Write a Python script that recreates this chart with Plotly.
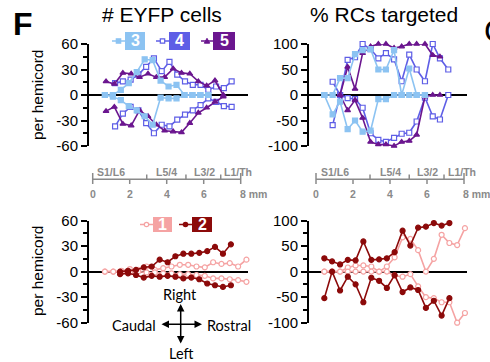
import plotly.graph_objects as go

W, H = 490, 362

# ---------------- data (mm along cord, value) ----------------
# Top-left: # EYFP cells per hemicord (positive = right, negative = left)
x3 = [0.66, 1.09, 1.52, 1.95, 2.38, 2.81, 3.24, 3.67, 4.10, 4.53, 4.96, 5.39, 5.82, 6.25]
r3 = [0, 0, 6, 14, 27, 42, 41, 17, 10, 12, 0, 0, 0, 0]
l3 = [0, -2, -6, -13, -18, -25, -35, -3, -4, -4, 0, 0, 0, 0]
x4 = [1.21, 1.63, 2.05, 2.47, 2.89, 3.31, 3.73, 4.15, 4.57, 4.99, 5.41, 5.83, 6.25, 6.67, 7.09, 7.51]
r4 = [14, 16, 18, 24, 33, 43, 28, 39, 24, 16, 12, 12, 6, 10, 8, 16]
l4 = [-37, -22, -14, -18, -33, -45, -35, -37, -29, -23, -18, -12, -4, -8, -13, -14]
x5 = [0.72, 1.17, 1.63, 2.08, 2.53, 2.99, 3.44, 3.89, 4.35, 4.80, 5.25, 5.71, 6.16, 6.61, 7.06]
r5 = [16, 13, 26, 25, 21, 25, 21, 21, 31, 26, 25, 16, 11, 17, 0]
l5 = [-19, -14, -34, -36, -18, -25, -35, -42, -43, -44, -33, -21, -15, -8, -2]

# Top-right: % RCs targeted
x3r = [0.45, 0.90, 1.30, 1.71, 2.11, 2.52, 2.95, 3.37, 3.78, 4.22, 4.63, 5.04, 5.44, 5.89]
r3r = [0, 0, 33, 33, 80, 88, 90, 50, 50, 88, 0, 52, 0, 0]
l3r = [0, -38, -13, -67, -50, -72, -70, -8, -8, 0, 0, 0, 0, 0]
x4r = [0.90, 1.30, 1.71, 2.11, 2.52, 2.95, 3.37, 3.78, 4.22, 4.63, 5.04, 5.44, 5.89, 6.31, 6.70, 7.15]
r4r = [26, 0, 69, 74, 100, 90, 72, 82, 70, 27, 79, 50, 27, 100, 72, 50]
l4r = [-59, 0, -6, -8, -25, -75, -88, -92, -84, -76, -74, -52, -5, -42, -48, 0]
x5r = [1.30, 1.71, 2.11, 2.52, 2.95, 3.37, 3.78, 4.22, 4.63, 5.04, 5.44, 5.89, 6.31, 6.70]
r5r = [0, 55, 12, 82, 95, 100, 100, 92, 95, 100, 100, 100, 78, 75]
l5r = [0, -30, -10, -45, -92, -97, -97, -100, -92, -90, -78, -3, 0, 0]

# Bottom-left: # EYFP cells
x1 = [0.66, 1.11, 1.56, 2.01, 2.46, 2.91, 3.36, 3.81, 4.26, 4.71, 5.16, 5.61, 6.06, 6.51, 6.96, 7.41, 7.86, 8.31]
r1 = [0, 0, 1, 3, 2, 6, 2, 4, 6, 8, 8, 6, 5, 11, 9, 10, 6, 14]
l1 = [0, 0, -1, -1, 0, -1, -1, -2, -2, -3, -3, -4, -5, -8, -8, -9, -10, -12]
x2 = [1.48, 1.91, 2.34, 2.76, 3.19, 3.62, 4.05, 4.47, 4.90, 5.33, 5.76, 6.19, 6.61, 7.04, 7.47]
r2 = [0, 1, 2, 5, 6, 14, 11, 18, 21, 21, 22, 24, 29, 21, 32]
l2 = [-3, -2, -4, -7, -5, -6, -5, -6, -8, -7, -9, -14, -16, -18, -16]

# Bottom-right: % RCs targeted
x2r = [0.45, 0.87, 1.30, 1.72, 2.14, 2.56, 2.99, 3.41, 3.83, 4.25, 4.68, 5.10, 5.52, 5.94, 6.37, 6.79, 7.21]
r2r = [26, 20, 14, 23, 22, 59, 23, 24, 26, 38, 80, 51, 86, 88, 95, 90, 95]
l2r = [-52, 0, -37, -10, -25, -60, -12, -18, -32, -7, -40, -31, -36, -71, -57, -86, -52]
x1r = [0.45, 0.87, 1.30, 1.72, 2.14, 2.56, 2.99, 3.41, 3.83, 4.25, 4.68, 5.10, 5.52, 5.94, 6.37, 6.79, 7.21, 7.63, 8.05]
r1r = [0, 0, 0, 8, 12, 12, 10, 0, 10, 28, 67, 64, 42, 0, 25, 72, 56, 52, 85]
l1r = [0, 0, 0, 0, 0, 0, 0, 0, 0, -8, -10, -5, -29, -50, -52, -60, -60, -100, -81]

count_ticks = [-60, -30, 0, 30, 60]
count_minor = [-45, -15, 15, 45]
pct_ticks = [-100, -50, 0, 50, 100]
pct_minor = [-75, -25, 25, 75]
scale_ticks = [0, 2, 4, 6, 8]
scale_labels = ["0", "2", "4", "6", "8 mm"]
segments = ["S1/L6", "L5/4", "L3/2", "L1/Th"]
segment_pos = [1.0, 4.0, 6.02, 7.87]
segment_bounds = [2.92, 5.04, 6.92]

C1, C2 = "#F5A3A3", "#8C0A0A"
C3, C4, C5 = "#8CC3F2", "#5E5EE6", "#6B168F"
FONT = "Liberation Sans, Arial, sans-serif"

def PX(x):
    return x / W

def PY(y):
    return 1 - y / H

fig = go.Figure()

def add_series(xs, ys, color, symbol, fill, xa, ya):
    fig.add_trace(go.Scatter(
        x=xs, y=ys, mode="lines+markers", xaxis=xa, yaxis=ya,
        line=dict(color=color, width=1.6),
        marker=dict(symbol=symbol, size=5, color=fill, line=dict(color=color, width=1.2)),
        cliponaxis=False, showlegend=False, hoverinfo="skip"))

# top-left
for ys in (r4, l4):
    add_series(x4, ys, C4, "square", "white", "x", "y")
for ys in (r5, l5):
    add_series(x5, ys, C5, "triangle-up", C5, "x", "y")
for ys in (r3, l3):
    add_series(x3, ys, C3, "square", C3, "x", "y")
# top-right
for ys in (r4r, l4r):
    add_series(x4r, ys, C4, "square", "white", "x2", "y2")
for ys in (r5r, l5r):
    add_series(x5r, ys, C5, "triangle-up", C5, "x2", "y2")
for ys in (r3r, l3r):
    add_series(x3r, ys, C3, "square", C3, "x2", "y2")
# bottom-left
for ys in (r1, l1):
    add_series(x1, ys, C1, "circle", "white", "x3", "y3")
for ys in (r2, l2):
    add_series(x2, ys, C2, "circle", C2, "x3", "y3")
# bottom-right
for ys in (r1r, l1r):
    add_series(x1r, ys, C1, "circle", "white", "x4", "y4")
for ys in (r2r, l2r):
    add_series(x2r, ys, C2, "circle", C2, "x4", "y4")

def yax(ticks, minor, rng, dom, anchor):
    return dict(
        domain=dom, range=rng, anchor=anchor, automargin=False,
        tickvals=ticks, ticktext=[str(t) for t in ticks],
        ticks="outside", ticklen=6, tickwidth=2, tickcolor="black",
        minor=dict(tickvals=minor, ticks="outside", ticklen=4, tickwidth=2, tickcolor="black"),
        showline=True, linewidth=2, linecolor="black",
        showgrid=False, zeroline=True, zerolinecolor="black", zerolinewidth=2,
        tickfont=dict(family=FONT, size=15, color="black"), fixedrange=True)

def xax(rng, dom, anchor):
    return dict(domain=dom, range=rng, anchor=anchor, visible=False, automargin=False,
                showgrid=False, zeroline=False, fixedrange=True)

top_dom = [PY(146), PY(44)]
bot_dom = [PY(322.7), PY(220.5)]
left_dom = [PX(89), PX(248)]
right_dom = [PX(309), PX(467)]
left_rng = [(89 - 92.7) / 18.5, (248 - 92.7) / 18.5]
right_rng = [(309 - 316) / 18.5, (467 - 316) / 18.5]

fig.update_layout(
    template="none",
    width=W, height=H, margin=dict(l=0, r=0, t=0, b=0, pad=0, autoexpand=False),
    paper_bgcolor="white", plot_bgcolor="rgba(0,0,0,0)",
    font=dict(family=FONT, color="black"),
    xaxis=xax(left_rng, left_dom, "y"),
    yaxis=yax(count_ticks, count_minor, [-60, 60], top_dom, "x"),
    xaxis2=xax(right_rng, right_dom, "y2"),
    yaxis2=yax(pct_ticks, pct_minor, [-100, 100], top_dom, "x2"),
    xaxis3=xax(left_rng, left_dom, "y3"),
    yaxis3=yax(count_ticks, count_minor, [-60, 60], bot_dom, "x3"),
    xaxis4=xax(right_rng, right_dom, "y4"),
    yaxis4=yax(pct_ticks, pct_minor, [-100, 100], bot_dom, "x4"),
)

ann = []
shapes = []

# panel letter and titles
ann.append(dict(text="<b>F</b>", x=PX(11), y=PY(24), xref="paper", yref="paper",
                xanchor="left", yanchor="middle", showarrow=False,
                font=dict(family=FONT, size=32, color="black")))
ann.append(dict(text="G", x=PX(482), y=PY(31), xref="paper", yref="paper",
                xanchor="left", yanchor="middle", showarrow=False,
                font=dict(family=FONT, size=32, color="black")))
ann.append(dict(text="# EYFP cells", x=PX(162), y=PY(15), xref="paper", yref="paper",
                xanchor="center", yanchor="middle", showarrow=False,
                font=dict(family=FONT, size=21, color="black")))
ann.append(dict(text="% RCs targeted", x=PX(384), y=PY(15), xref="paper", yref="paper",
                xanchor="center", yanchor="middle", showarrow=False,
                font=dict(family=FONT, size=21, color="black")))
for yc in (95, 271):
    ann.append(dict(text="per hemicord", x=PX(37), y=PY(yc), xref="paper", yref="paper",
                    xanchor="center", yanchor="middle", showarrow=False, textangle=-90,
                    font=dict(family=FONT, size=15.5, color="black")))

# legends
def legend_item(label, color, sym, fill, lx0, lx1, bx0, bx1, yc, bh):
    shapes.append(dict(type="line", xref="paper", yref="paper",
                       x0=PX(lx0), x1=PX(lx1), y0=PY(yc), y1=PY(yc),
                       line=dict(color=color, width=1.5)))
    mx = (lx0 + lx1) / 2
    s = 2.2
    if sym == "square":
        shapes.append(dict(type="rect", xref="paper", yref="paper",
                           x0=PX(mx - s), x1=PX(mx + s), y0=PY(yc + s), y1=PY(yc - s),
                           fillcolor=fill, line=dict(color=color, width=1.2)))
    elif sym == "circle":
        shapes.append(dict(type="circle", xref="paper", yref="paper",
                           x0=PX(mx - s), x1=PX(mx + s), y0=PY(yc + s), y1=PY(yc - s),
                           fillcolor=fill, line=dict(color=color, width=1.2)))
    else:
        path = "M %f %f L %f %f L %f %f Z" % (PX(mx - s - 0.5), PY(yc + s), PX(mx + s + 0.5), PY(yc + s),
                                              PX(mx), PY(yc - s - 0.5))
        shapes.append(dict(type="path", xref="paper", yref="paper", path=path,
                           fillcolor=fill, line=dict(color=color, width=1)))
    shapes.append(dict(type="rect", xref="paper", yref="paper",
                       x0=PX(bx0), x1=PX(bx1), y0=PY(yc + bh / 2), y1=PY(yc - bh / 2),
                       fillcolor=color, line=dict(width=0)))
    ann.append(dict(text="<b>%s</b>" % label, x=PX((bx0 + bx1) / 2), y=PY(yc),
                    xref="paper", yref="paper", xanchor="center", yanchor="middle",
                    showarrow=False, font=dict(family=FONT, size=16, color="white")))

legend_item("3", C3, "square", C3, 112, 125, 125, 145, 41, 18)
legend_item("4", C4, "square", "white", 156, 169, 169, 190, 41, 18)
legend_item("5", C5, "tri", C5, 201, 213, 213, 235, 41, 18)
legend_item("1", C1, "circle", "white", 140, 153, 153, 172, 224.5, 15)
legend_item("2", C2, "circle", C2, 179, 192, 192, 212, 224.5, 15)

# scale bars (drawn in mm on each top panel's x axis)
GRAY = "#8a8a8a"
for xr in ("x", "x2"):
    shapes.append(dict(type="line", xref=xr, yref="paper", x0=0, x1=8,
                       y0=PY(179.3), y1=PY(179.3), line=dict(color=GRAY, width=1.5)))
    for t in scale_ticks:
        top = 173 if t in (0, 8) else 179.3
        shapes.append(dict(type="line", xref=xr, yref="paper", x0=t, x1=t,
                           y0=PY(top), y1=PY(184), line=dict(color=GRAY, width=1.5)))
    for b in segment_bounds:
        shapes.append(dict(type="line", xref=xr, yref="paper", x0=b, x1=b,
                           y0=PY(179.3), y1=PY(174.5), line=dict(color=GRAY, width=1.5)))
    for t, lab in zip(scale_ticks, scale_labels):
        ann.append(dict(text="<b>%s</b>" % lab, x=t - (0.17 if lab.endswith("mm") else 0),
                        y=PY(193.5), xref=xr, yref="paper",
                        xanchor="left" if lab.endswith("mm") else "center", yanchor="middle",
                        showarrow=False, font=dict(family=FONT, size=10.5, color=GRAY)))
    for s, p in zip(segments, segment_pos):
        ann.append(dict(text="<b>%s</b>" % s, x=p, y=PY(172), xref=xr, yref="paper",
                        xanchor="center", yanchor="middle", showarrow=False,
                        font=dict(family=FONT, size=10.5, color=GRAY)))

# compass
CF = "Lato, Carlito, sans-serif"
ann.append(dict(text="Right", x=PX(180), y=PY(294), xref="paper", yref="paper",
                xanchor="center", yanchor="middle",
                showarrow=False, font=dict(family=CF, size=14.5, color="black")))
ann.append(dict(text="Left", x=PX(181), y=PY(353), xref="paper", yref="paper",
                xanchor="center", yanchor="middle",
                showarrow=False, font=dict(family=CF, size=14.5, color="black")))
ann.append(dict(text="Caudal", x=PX(158), y=PY(325), xref="paper", yref="paper",
                xanchor="right", yanchor="middle",
                showarrow=False, font=dict(family=CF, size=14.5, color="black")))
ann.append(dict(text="Rostral", x=PX(205), y=PY(325), xref="paper", yref="paper",
                xanchor="left", yanchor="middle",
                showarrow=False, font=dict(family=CF, size=14.5, color="black")))
ann.append(dict(text="", x=PX(180.7), y=PY(304), xref="paper", yref="paper",
                ax=0, ay=41, axref="pixel", ayref="pixel",
                showarrow=True, arrowhead=2, arrowside="end+start", arrowsize=1,
                arrowwidth=1.5, arrowcolor="black"))
ann.append(dict(text="", x=PX(202), y=PY(324.3), xref="paper", yref="paper",
                ax=-42, ay=0, axref="pixel", ayref="pixel",
                showarrow=True, arrowhead=2, arrowside="end+start", arrowsize=1,
                arrowwidth=1.5, arrowcolor="black"))

fig.update_layout(annotations=ann, shapes=shapes)
fig.write_html("out.html", config={"displayModeBar": False},
               post_script="document.body.style.margin='0';document.body.style.overflow='hidden';")
